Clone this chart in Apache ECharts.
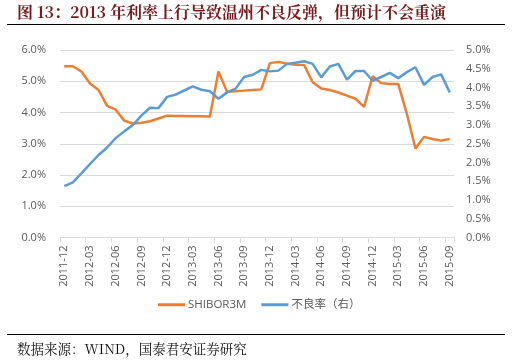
<!DOCTYPE html>
<html><head><meta charset="utf-8">
<script src="https://cdn.jsdelivr.net/npm/echarts@6/dist/echarts.min.js"></script>
<style>html,body{margin:0;padding:0;background:#fff}#c{width:518px;height:363px}</style>
</head><body><div id="c"></div>
<script>
const categories = ["2011-12","2012-01","2012-02","2012-03","2012-04","2012-05","2012-06","2012-07","2012-08","2012-09","2012-10","2012-11","2012-12",
"2013-01","2013-02","2013-03","2013-04","2013-05","2013-06","2013-07","2013-08","2013-09","2013-10","2013-11","2013-12",
"2014-01","2014-02","2014-03","2014-04","2014-05","2014-06","2014-07","2014-08","2014-09","2014-10","2014-11","2014-12",
"2015-01","2015-02","2015-03","2015-04","2015-05","2015-06","2015-07","2015-08","2015-09"];
const shibor = [5.48,5.48,5.31,4.93,4.72,4.21,4.09,3.74,3.65,3.67,3.72,3.81,3.90,3.89,3.89,3.88,3.88,3.87,5.31,4.66,4.68,4.70,4.72,4.74,5.58,5.62,5.56,5.53,5.52,4.97,4.77,4.72,4.64,4.54,4.44,4.18,5.16,4.94,4.91,4.91,3.95,2.85,3.22,3.15,3.10,3.15];
const npl = [1.37,1.47,1.71,1.96,2.20,2.40,2.65,2.83,3.00,3.25,3.46,3.45,3.75,3.81,3.92,4.03,3.94,3.90,3.70,3.87,3.97,4.28,4.34,4.47,4.43,4.45,4.63,4.66,4.70,4.63,4.27,4.56,4.63,4.21,4.44,4.44,4.18,4.28,4.39,4.25,4.41,4.54,4.07,4.28,4.35,3.87];
const leftTicks = {min:0, max:6, interval:1};
const rightTicks = {min:0, max:5, interval:0.5};
const seriesNames = ["SHIBOR3M","不良率（右）"];
const titleText = "图 13：2013 年利率上行导致温州不良反弹，但预计不会重演";
const sourceText = "数据来源：WIND，国泰君安证券研究";

const chart = echarts.init(document.getElementById('c'), null, {renderer:'canvas'});
const lbl = {color:'#595959', fontSize:11, fontFamily:'"Open Sans","Noto Sans",sans-serif'};
chart.setOption({
  animation:false,
  backgroundColor:'#fff',
  grid:{left:60, right:64, top:50, bottom:125.5, containLabel:false},
  legend:{
    data:seriesNames, left:158, top:299, padding:0, icon:'rect', itemWidth:27, itemHeight:3, itemGap:15,
    textStyle:{color:'#595959', fontSize:11.5, fontFamily:'"Open Sans","Noto Sans CJK SC",sans-serif', padding:[0,0,0,-2]}
  },
  xAxis:{
    type:'category', data:categories, boundaryGap:true,
    axisLine:{lineStyle:{color:'#d9d9d9', width:1}},
    axisTick:{show:true, interval:2, alignWithLabel:false, length:5, lineStyle:{color:'#d9d9d9'}},
    axisLabel:Object.assign({interval:2, rotate:90, margin:8}, lbl)
  },
  yAxis:[
    {type:'value', min:leftTicks.min, max:leftTicks.max, interval:leftTicks.interval,
     axisLine:{show:false}, axisTick:{show:false},
     splitLine:{lineStyle:{color:'#d9d9d9', width:1}},
     axisLabel:Object.assign({margin:14, formatter:v=>v.toFixed(1)+'%'}, lbl)},
    {type:'value', min:rightTicks.min, max:rightTicks.max, interval:rightTicks.interval,
     axisLine:{show:false}, axisTick:{show:false}, splitLine:{show:false},
     axisLabel:Object.assign({margin:12, formatter:v=>v.toFixed(1)+'%'}, lbl)}
  ],
  series:[
    {name:seriesNames[0], type:'line', data:shibor, yAxisIndex:0, symbol:'none', smooth:false,
     lineStyle:{color:'#ED7D31', width:2.5}, itemStyle:{color:'#ED7D31'}},
    {name:seriesNames[1], type:'line', data:npl, yAxisIndex:1, symbol:'none', smooth:false,
     lineStyle:{color:'#5B9BD5', width:2.5}, itemStyle:{color:'#5B9BD5'}}
  ],
  graphic:[
    {type:'text', left:17, top:3.5, style:{text:titleText, fill:'#7a1a1a', font:'bold 16px "Noto Serif CJK SC","Noto Sans CJK SC",serif'}},
    {type:'line', shape:{x1:7,y1:24.5,x2:505,y2:24.5}, style:{stroke:'#000', lineWidth:1}},
    {type:'line', shape:{x1:7,y1:334.5,x2:505,y2:334.5}, style:{stroke:'#000', lineWidth:1}},
    {type:'text', left:17, top:342, style:{text:sourceText, fill:'#111', font:'13.5px "Noto Serif CJK SC","Noto Sans CJK SC",serif'}}
  ]
});
</script></body></html>
